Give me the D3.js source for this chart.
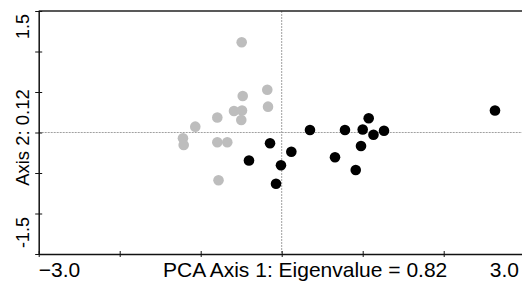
<!DOCTYPE html>
<html>
<head>
<meta charset="utf-8">
<script src="https://cdn.jsdelivr.net/npm/d3@7"></script>
<style>
  body { margin: 0; background: #fff; }
  svg { display: block; font-family: "Liberation Sans", Arial, sans-serif; }
</style>
</head>
<body>
<svg width="522" height="284"></svg>
<script>
// PCA scores - group 1 (grau)
const grayX = [-0.494, -0.178, -0.481, -0.169, -0.589, -0.490, -0.795, -0.499, -1.067, -1.219, -1.210, -0.795, -0.672, -0.780];
const grayY = [1.114, 0.528, 0.451, 0.319, 0.265, 0.272, 0.185, 0.154, 0.072, -0.072, -0.154, -0.121, -0.121, -0.590];

// group 2 (schwarz)
const blackX = [-0.404, -0.144, -0.009, -0.070, 0.119, 0.349, 0.658, 0.781, 0.914, 0.979, 1.000, 1.074, 1.133, 1.263, 2.633];
const blackY = [-0.346, -0.133, -0.404, -0.632, -0.237, 0.031, -0.306, 0.031, -0.463, -0.167, 0.037, 0.175, -0.027, 0.022, 0.272];

// axes
const xTicks = [-3, -2, -1, 0, 1, 2, 3];
const yTicks = [-1.5, -1, -0.5, 0, 0.5, 1, 1.5];
const xTitle = "PCA Axis 1: Eigenvalue = 0.82";
const yTitle = "Axis 2: 0.12";

const svg = d3.select("svg");

const x = d3.scaleLinear().domain([-3, 3]).range([38.7, 524.7]);
const y = d3.scaleLinear().domain([-1.5, 1.5]).range([254, 11]);

// dotted zero lines
svg.append("line")
  .attr("x1", x(-3)).attr("x2", 522)
  .attr("y1", y(0)).attr("y2", y(0))
  .attr("stroke", "#a0a0a0").attr("stroke-width", 1)
  .attr("stroke-dasharray", "2,1");
svg.append("line")
  .attr("x1", x(0)).attr("x2", x(0))
  .attr("y1", y(1.5)).attr("y2", y(-1.5))
  .attr("stroke", "#a0a0a0").attr("stroke-width", 1)
  .attr("stroke-dasharray", "2,1");

// top frame line
svg.append("line")
  .attr("x1", x(-3)).attr("x2", 522)
  .attr("y1", y(1.5)).attr("y2", y(1.5))
  .attr("stroke", "#222").attr("stroke-width", 1.5);

// bottom axis, ticks cross the line
const xAxis = svg.append("g")
  .attr("transform", `translate(0,${y(-1.5)})`)
  .call(d3.axisBottom(x).tickValues(xTicks).tickFormat("").tickSizeOuter(0));
xAxis.select(".domain").attr("stroke", "#111").attr("stroke-width", 1.5);
xAxis.selectAll(".tick line").attr("y1", -3).attr("y2", 3).attr("stroke", "#111");

// left axis
const yAxis = svg.append("g")
  .attr("transform", `translate(${x(-3)},0)`)
  .call(d3.axisLeft(y).tickValues(yTicks).tickFormat("").tickSizeOuter(0));
yAxis.select(".domain").attr("stroke", "#111").attr("stroke-width", 1.5);
yAxis.selectAll(".tick line").attr("x1", -3.5).attr("x2", 3.5).attr("stroke", "#111");

// points
const gray = grayX.map((v, i) => ({ x: v, y: grayY[i] }));
const black = blackX.map((v, i) => ({ x: v, y: blackY[i] }));

svg.append("g").selectAll("circle")
  .data(gray)
  .join("circle")
  .attr("cx", d => x(d.x))
  .attr("cy", d => y(d.y))
  .attr("r", 5.3)
  .attr("fill", "#bdbdbd");

svg.append("g").selectAll("circle")
  .data(black)
  .join("circle")
  .attr("cx", d => x(d.x))
  .attr("cy", d => y(d.y))
  .attr("r", 5.3)
  .attr("fill", "#000");

// x labels - only the end values + title
svg.append("text")
  .attr("x", x(-3)).attr("y", 277)
  .attr("font-size", 21)
  .text(d3.format(".1f")(xTicks[0]));
svg.append("text")
  .attr("x", 519).attr("y", 277)
  .attr("text-anchor", "end")
  .attr("font-size", 21)
  .text(d3.format(".1f")(xTicks[xTicks.length - 1]));
svg.append("text")
  .attr("x", 163).attr("y", 277)
  .attr("font-size", 21)
  .text(xTitle);

// y labels (gedreht)
svg.append("text")
  .attr("transform", `translate(29,${y(1.5) + 3}) rotate(-90)`)
  .attr("text-anchor", "end")
  .attr("font-size", 18)
  .text(yTicks[yTicks.length - 1]);
svg.append("text")
  .attr("transform", `translate(29,${y(-1.5) - 6}) rotate(-90)`)
  .attr("text-anchor", "start")
  .attr("font-size", 18)
  .text(yTicks[0]);
svg.append("text")
  .attr("transform", `translate(29,${y(0) + 5}) rotate(-90)`)
  .attr("text-anchor", "middle")
  .attr("font-size", 18.5)
  .text(yTitle);
</script>
</body>
</html>
